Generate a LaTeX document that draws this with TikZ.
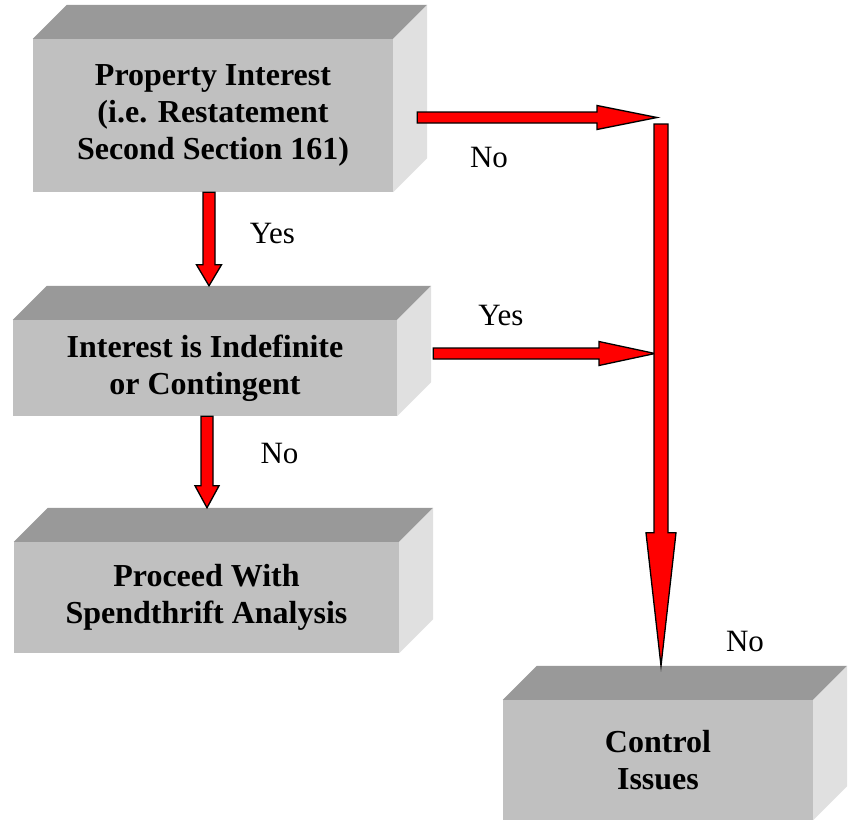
\documentclass[tikz,border=0pt]{standalone}
\usepackage{fontspec}
\setmainfont{Liberation Serif}
\usetikzlibrary{calc, positioning}
\definecolor{frontgray}{RGB}{192,192,192}
\definecolor{topgray}{RGB}{153,153,153}
\definecolor{sidegray}{RGB}{224,224,224}
\tikzset{
  box/.style={fill=frontgray, inner sep=0pt, align=center, font=\fontsize{32}{37}\selectfont\bfseries},
  answer/.style={anchor=base, font=\fontsize{31}{37}\selectfont},
  redarrow/.style={fill=red, draw=black, line width=1.3pt, line join=miter}
}
% block arrow: start, tip, shaft half width, head half width, head length
\newcommand{\blockarrow}[5]{%
  \coordinate (bh) at ($(#2)!#5!(#1)$);
  \filldraw[redarrow] ($(#1)!#3!90:(#2)$) -- ($(bh)!#3!90:(#2)$) -- ($(bh)!#4!90:(#2)$) -- (#2)
    -- ($(bh)!#4!-90:(#2)$) -- ($(bh)!#3!-90:(#2)$) -- ($(#1)!#3!-90:(#2)$) -- cycle;
}

\begin{document}
\begin{tikzpicture}[x=1pt, y=-1pt]
\clip (0,0) rectangle (855,820);
\node[box, minimum width=360pt, minimum height=153pt] (prop) at (213,115.5) {Property Interest\\(i.e. Restatement\\Second Section 161)};
\node[box, minimum width=384pt, minimum height=96pt] (indef) at (205,368) {Interest is Indefinite\\or Contingent};
\node[box, minimum width=385pt, minimum height=111pt] (spend) at (206.5,597.5) {Proceed With\\Spendthrift Analysis};
\node[box, minimum width=310pt, minimum height=120pt] (control) at (658,760) {Control\\Issues};
\foreach \bx in {prop,indef,spend,control}{
  \fill[topgray] (\bx.north west) -- ++(34,-34) -- ($(\bx.north east)+(34,-34)$) -- (\bx.north east) -- cycle;
  \fill[sidegray] (\bx.north east) -- ++(34,-34) -- ($(\bx.south east)+(34,-34)$) -- (\bx.south east) -- cycle;
  \coordinate (\bx-back) at ($(\bx.north)+(0,-34)$);
}

\coordinate (a1) at ($(prop.south)+(-4,0)$);
\coordinate (t1) at (a1 |- indef-back);
\coordinate (a2) at ($(indef.south)+(2,0)$);
\coordinate (t2) at (a2 |- spend-back);
\coordinate (ctop) at (661,124);
\coordinate (a3) at ($(prop.east)+(24,2)$);
\coordinate (t3) at ($(ctop |- a3)+(-4,0)$);
\coordinate (a4) at ($(indef.east)+(36,-14.5)$);
\coordinate (t4) at ($(ctop |- a4)+(-6,0)$);
\coordinate (t5) at (ctop |- control-back);

\blockarrow{a1}{t1}{6pt}{12.5pt}{21pt}
\blockarrow{a2}{t2}{6pt}{12pt}{22pt}
\blockarrow{a3}{t3}{5.5pt}{12pt}{60pt}
\blockarrow{a4}{t4}{5.5pt}{12pt}{56pt}
\blockarrow{ctop}{t5}{7pt}{15pt}{133pt}

\node[answer] (no1) at (489,167) {No};
\node[answer] (yes1) at (272.5,243) {Yes};
\node[answer] (yes2) at (501,325) {Yes};
\node[answer] (no2) at (279.5,463) {No};
\node[answer] (no3) at (745,651) {No};
\end{tikzpicture}
\end{document}
